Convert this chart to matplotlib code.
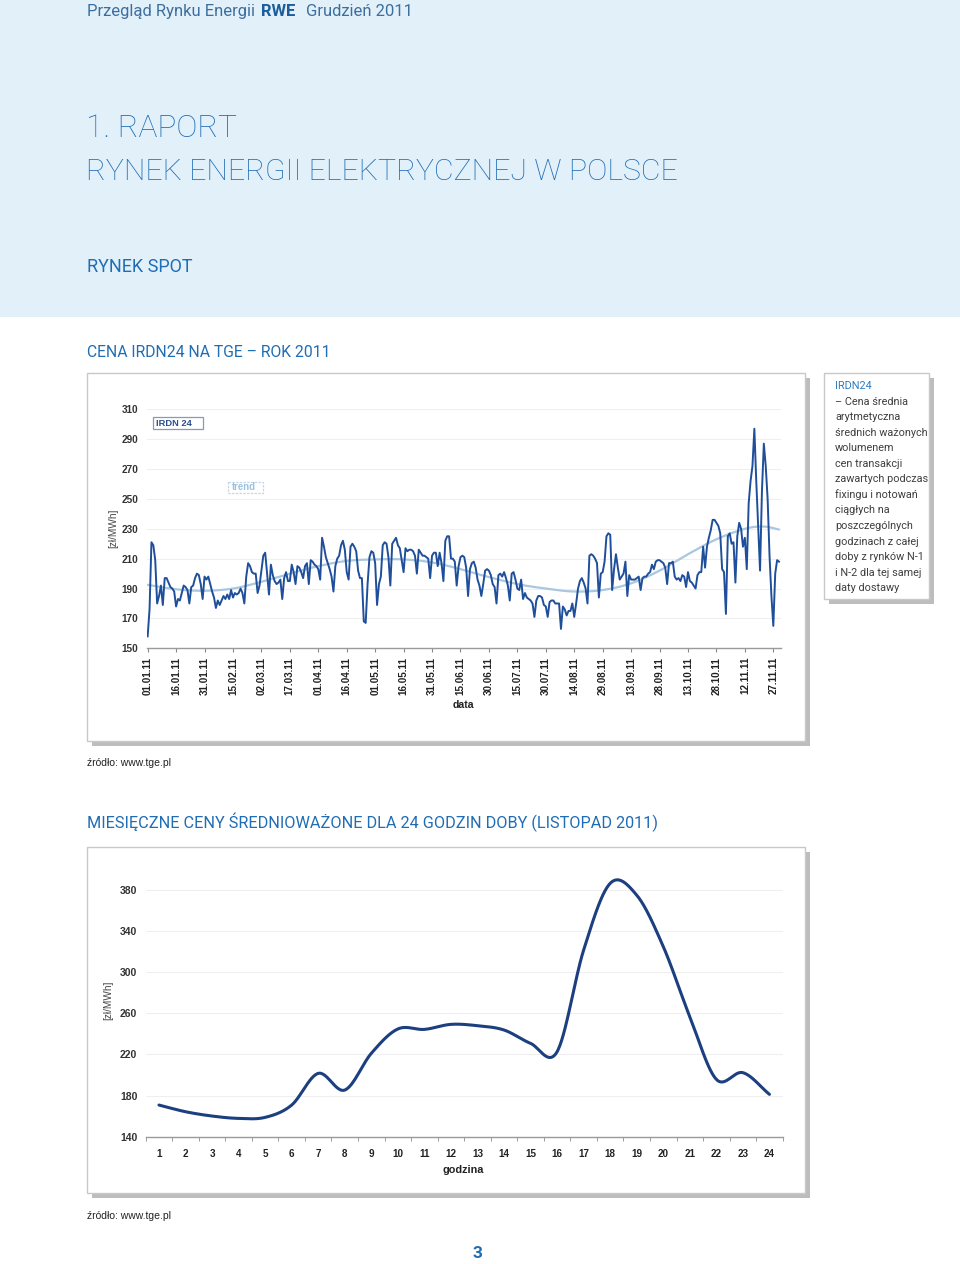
import numpy as np
import matplotlib
matplotlib.use('Agg')
import matplotlib.pyplot as plt
from matplotlib.patches import Rectangle
from matplotlib import font_manager

# ---------------- data ----------------
irdn24_daily = [
    158, 176, 221, 219, 209, 180, 185, 192, 179, 197, 197, 194, 191, 190, 188, 178,
    183, 182, 187, 192, 191, 189, 180, 191, 192, 197, 200, 199, 193, 183, 198,
    196, 198, 193, 188, 184, 177, 182, 179, 182, 185, 183, 186, 183, 189, 184,
    187, 186, 187, 190, 187, 180, 198, 207, 205, 201, 200, 200, 187, 192, 202,
    212, 214, 200, 186, 206, 199, 195, 193, 194, 196, 183, 197, 201, 195, 195,
    206, 201, 193, 205, 204, 201, 197, 205, 207, 193, 209, 208, 206, 205, 203,
    196, 224, 218, 211, 207, 203, 198, 188, 205, 210, 212, 219, 222, 216, 201,
    196, 218, 220, 218, 215, 202, 197, 197, 168, 167, 193, 211, 215, 214, 207,
    179, 193, 198, 219, 221, 220, 211, 192, 220, 222, 224, 219, 217, 209, 201,
    217, 215, 216, 216, 215, 212, 200, 216, 214, 212, 212, 211, 210, 197, 212,
    214, 214, 205, 214, 207, 195, 222, 225, 225, 210, 210, 208, 192, 205, 211,
    212, 211, 204, 185, 203, 207, 208, 204, 196, 192,
    185, 193, 202, 203, 202, 199, 193, 191, 180, 199, 200, 198, 201, 197, 192,
    182, 200, 201, 196, 190, 189, 196, 183, 187, 184, 183, 182, 180, 171, 182,
    185, 185, 184, 179, 178, 171, 181, 182, 182, 180, 180, 180, 163, 178, 176,
    172, 175, 175, 180, 171, 180, 190, 195, 197, 194, 190, 180, 212, 213, 212, 210, 207,
    184, 200, 201, 208, 225, 227, 226, 189, 203, 213, 204, 196, 198, 200, 208,
    185, 199, 196, 196, 196, 197, 198, 189, 197, 198, 198, 200, 201, 206, 203,
    208, 209, 209, 208, 207, 204, 193, 207, 207, 208, 198, 196, 197, 195, 199,
    198, 191, 201, 195, 194, 192, 190, 199, 201, 201, 218, 204, 218, 224, 229,
    236, 236, 234, 232, 227, 203, 201, 173, 225, 227, 220, 221, 194, 225, 234, 230, 218, 224,
    203, 247, 262, 272, 297, 262, 232, 202, 255, 287, 272, 250, 212, 185, 165, 200, 209, 208,
]
trend_days = [0, 15, 30, 45, 60, 75, 90, 105, 120, 135, 150, 165, 176, 195, 210,
              225, 240, 255, 270, 285, 300, 315, 325, 333]
trend_values = [192.5, 189.5, 188.5, 190, 194.5, 200, 205, 208.5, 209.5, 209.5, 207.5,
                203, 199, 193, 190, 188, 189, 193.5, 202, 213, 223, 230, 231.5, 229.5]
date_tick_days = list(range(0, 331, 15))
date_tick_labels = ['01.01.11', '16.01.11', '31.01.11', '15.02.11', '02.03.11', '17.03.11',
                    '01.04.11', '16.04.11', '01.05.11', '16.05.11', '31.05.11', '15.06.11',
                    '30.06.11', '15.07.11', '30.07.11', '14.08.11', '29.08.11', '13.09.11',
                    '28.09.11', '13.10.11', '28.10.11', '12.11.11', '27.11.11']
y1_ticks = [150, 170, 190, 210, 230, 250, 270, 290, 310]

hours = list(range(1, 25))
hourly_price = [170.8, 164.3, 160.1, 157.8, 158.8, 170.8, 201.6, 185.4, 221.1, 244.8,
                244.4, 249.3, 248.0, 243.8, 230.8, 222.7, 321.6, 386.5, 375.0, 325.0,
                256.8, 195.8, 202.3, 181.2]
y2_ticks = [140, 180, 220, 260, 300, 340, 380]

side_lines = ['– Cena średnia', 'arytmetyczna', 'średnich ważonych', 'wolumenem',
              'cen transakcji', 'zawartych podczas', 'fixingu i notowań', 'ciągłych na',
              'poszczególnych', 'godzinach z całej', 'doby z rynków N-1',
              'i N-2 dla tej samej', 'daty dostawy']

# ---------------- fonts ----------------
names = {f.name for f in font_manager.fontManager.ttflist}
HEAD = 'Roboto' if 'Roboto' in names else 'Liberation Sans'
ARIAL = 'Liberation Sans'

BLUE_T = '#1f6db4'
HEAD_C = '#3d6f9e'


def smooth(x, y, n=24):
    x = np.asarray(x, float)
    y = np.asarray(y, float)
    px = np.concatenate([[2 * x[0] - x[1]], x, [2 * x[-1] - x[-2]]])
    py = np.concatenate([[2 * y[0] - y[1]], y, [2 * y[-1] - y[-2]]])
    t = np.linspace(0, 1, n, endpoint=False)
    xs, ys = [], []
    for i in range(1, len(px) - 2):
        for p, out in ((px, xs), (py, ys)):
            p0, p1, p2, p3 = p[i - 1], p[i], p[i + 1], p[i + 2]
            out.extend(0.5 * (2 * p1 + (-p0 + p2) * t + (2 * p0 - 5 * p1 + 4 * p2 - p3) * t ** 2
                              + (-p0 + 3 * p1 - 3 * p2 + p3) * t ** 3))
    xs.append(x[-1])
    ys.append(y[-1])
    return np.array(xs), np.array(ys)


fig = plt.figure(figsize=(9.6, 12.64), dpi=100)
bg = fig.add_axes([0, 0, 1, 1])
bg.set_xlim(0, 960)
bg.set_ylim(1264, 0)
bg.axis('off')
r = fig.canvas.get_renderer()


def fit_text(x, y, s, target_w, size, **kw):
    """Place text and adjust its size so its width matches the reference."""
    t = bg.text(x, y, s, fontsize=size, **kw)
    w = t.get_window_extent(r).width
    if w > 0:
        t.set_fontsize(size * target_w / w)
    return t


# header background
bg.add_patch(Rectangle((0, 0), 960, 317, color='#e2f0fa', lw=0, zorder=0))

# header line
t1 = bg.text(87, 16, 'Przegląd Rynku Energii', family=HEAD, fontsize=12.0,
             color=HEAD_C, va='baseline')
x1 = t1.get_window_extent(r).x1 + 6
t2 = bg.text(x1, 16, 'RWE', family=HEAD, fontsize=12.0, color='#1c5d9b',
             weight='bold', va='baseline')
x2 = t2.get_window_extent(r).x1 + 11
bg.text(x2, 16, 'Grudzień 2011', family=HEAD, fontsize=12.0, color=HEAD_C, va='baseline')

fit_text(86, 137, '1. RAPORT', 151, 24, family=HEAD, weight='light', color=BLUE_T,
         va='baseline')
fit_text(86, 180, 'RYNEK ENERGII ELEKTRYCZNEJ W POLSCE', 590, 24, family=HEAD,
         weight='light', color=BLUE_T, va='baseline')
fit_text(87, 272, 'RYNEK SPOT', 106, 14, family=HEAD, color=BLUE_T, va='baseline')
fit_text(87, 357, 'CENA IRDN24 NA TGE – ROK 2011', 244, 13, family=HEAD, color=BLUE_T,
         va='baseline')
fit_text(87, 828, 'MIESIĘCZNE CENY ŚREDNIOWAŻONE DLA 24 GODZIN DOBY (LISTOPAD 2011)', 567, 13,
         family=HEAD, color=BLUE_T, va='baseline')


def frame(x, y, w, h):
    bg.add_patch(Rectangle((x + 5, y + 5), w, h, color='#bdbdbd', lw=0, zorder=1))
    bg.add_patch(Rectangle((x, y), w, h, facecolor='white', edgecolor='#c8c8c8',
                           lw=1.0, zorder=2))


frame(87, 373, 718, 368)
frame(87, 847, 718, 346)
frame(824, 373, 105, 226)

# side text
probe = fit_text(835, 401.6, side_lines[0], 73, 8, family=HEAD, color='#3f3f3f',
                 va='center', zorder=5)
side_size = probe.get_fontsize()
bg.text(835, 386, 'IRDN24', family=HEAD, fontsize=side_size, color='#2f7cc0',
        va='center', zorder=5)
for i, line in enumerate(side_lines[1:]):
    bg.text(835, 386 + (i + 2) * 15.56, line, family=HEAD, fontsize=side_size,
            color='#3f3f3f', va='center', zorder=5)

# source notes, page number
bg.text(87, 763, 'źródło: www.tge.pl', family=ARIAL, fontsize=7.5, color='#222222',
        va='center')
bg.text(87, 1216, 'źródło: www.tge.pl', family=ARIAL, fontsize=7.5, color='#222222',
        va='center')
bg.text(477, 1253, '3', family=HEAD, fontsize=12.5, color=BLUE_T, weight='bold',
        ha='center', va='center')

# axis titles
bg.text(113, 528, '[zł/MWh]', family=ARIAL, fontsize=7.2, color='#444444', rotation=90,
        ha='center', va='center', zorder=5)
bg.text(463, 705, 'data', family=ARIAL, fontsize=7.6, weight='bold', color='#222222',
        ha='center', va='center', zorder=5)
bg.text(108, 1000, '[zł/MWh]', family=ARIAL, fontsize=7.2, color='#444444', rotation=90,
        ha='center', va='center', zorder=5)
bg.text(463, 1170, 'godzina', family=ARIAL, fontsize=7.8, weight='bold', color='#222222',
        ha='center', va='center', zorder=5)

# legend-like labels
bg.add_patch(Rectangle((152.7, 416.7), 50.6, 12.6, facecolor='white', edgecolor='#8a98b8',
                       lw=0.9, zorder=5))
bg.text(156, 423, 'IRDN 24', family=ARIAL, fontsize=6.7, weight='bold', color='#2b4c8c',
        va='center', zorder=6)
bg.add_patch(Rectangle((228.3, 481.7), 34.4, 11.6, facecolor='white', edgecolor='#c5d8ea',
                       lw=0.9, ls=(0, (2, 1)), zorder=5))
bg.text(231.5, 487.5, 'trend', family=ARIAL, fontsize=6.9, weight='bold', color='#9cc0de',
        va='center', zorder=6)


def style_axes(ax):
    ax.set_facecolor('none')
    for s in ('left', 'right', 'top'):
        ax.spines[s].set_visible(False)
    ax.spines['bottom'].set_color('#9a9a9a')
    ax.spines['bottom'].set_linewidth(1.0)
    ax.yaxis.grid(True, color='#efefef', lw=0.8)
    ax.set_axisbelow(True)
    ax.tick_params(axis='y', length=0, pad=6, labelsize=7.2, labelcolor='#333333')
    for lab in ax.get_yticklabels():
        lab.set_fontweight('bold')
        lab.set_family(ARIAL)


# ---------------- chart 1 ----------------
ax1 = fig.add_axes([146.7 / 960, 1 - 648.3 / 1264, 634.2 / 960, 239 / 1264], zorder=3)
days = np.arange(len(irdn24_daily))
tx, ty = smooth(trend_days, trend_values, 12)
ax1.plot(tx, ty, color='#a9c7e0', lw=1.6, zorder=2, solid_capstyle='round')
ax1.plot(days, irdn24_daily, color='#1f4f9a', lw=1.4, zorder=3, solid_joinstyle='round')
ax1.set_xlim(-0.5, 334)
ax1.set_ylim(150, 310)
ax1.set_yticks(y1_ticks)
ax1.set_yticklabels([str(v) for v in y1_ticks])
ax1.set_xticks(date_tick_days)
ax1.set_xticklabels(date_tick_labels, rotation=90, fontsize=7.1, fontweight='bold',
                    family=ARIAL, color='#222222')
ax1.tick_params(axis='x', length=3, color='#8a8a8a', pad=3)
style_axes(ax1)

# ---------------- chart 2 ----------------
ax2 = fig.add_axes([145.7 / 960, 1 - 1136.7 / 1264, 637 / 960, (1136.7 - 874.6) / 1264],
                   zorder=3)
hx, hy = smooth(hours, hourly_price, 30)
ax2.plot(hx, hy, color='#1c3f80', lw=2.2, solid_capstyle='round')
ax2.set_xlim(0.5, 24.5)
ax2.set_ylim(140, 395)
ax2.set_yticks(y2_ticks)
ax2.set_yticklabels([str(v) for v in y2_ticks])
ax2.set_xticks(hours)
ax2.set_xticklabels([str(h) for h in hours], fontsize=7.1, fontweight='bold', family=ARIAL,
                    color='#222222')
ax2.set_xticks(np.arange(0.5, 25, 1), minor=True)
ax2.tick_params(axis='x', which='major', length=0, pad=9)
ax2.tick_params(axis='x', which='minor', length=3, color='#8a8a8a')
style_axes(ax2)
ax2.tick_params(axis='y', labelsize=7.5)

fig.savefig('out.png', dpi=100)
